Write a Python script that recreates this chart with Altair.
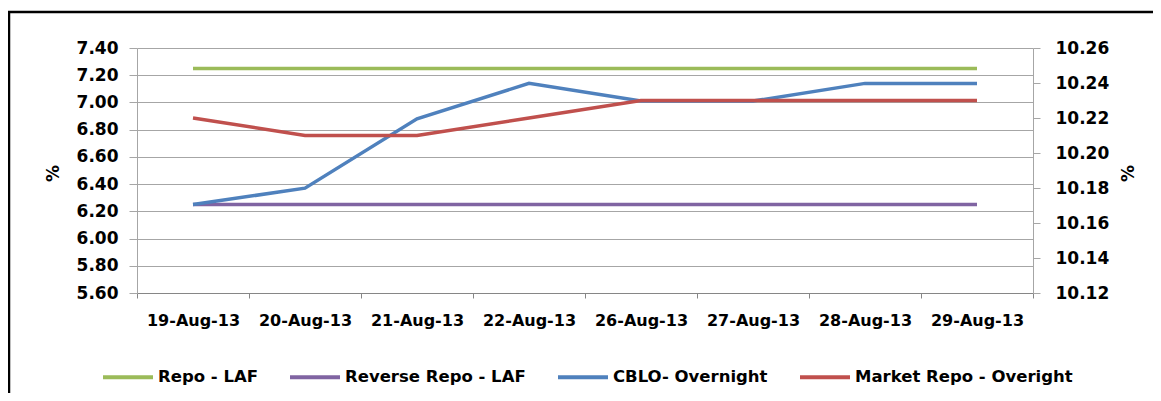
import altair as alt
import pandas as pd

dates = ["19-Aug-13", "20-Aug-13", "21-Aug-13", "22-Aug-13",
         "26-Aug-13", "27-Aug-13", "28-Aug-13", "29-Aug-13"]
series_names = ["Repo - LAF", "Reverse Repo - LAF", "CBLO- Overnight", "Market Repo - Overight"]
colors = ["#9BBB59", "#8064A2", "#4F81BD", "#C0504D"]

repo = [7.25, 7.25, 7.25, 7.25, 7.25, 7.25, 7.25, 7.25]
reverse_repo = [6.25, 6.25, 6.25, 6.25, 6.25, 6.25, 6.25, 6.25]
cblo = [6.25, 6.37, 6.88, 7.14, 7.01, 7.01, 7.14, 7.14]
market_repo = [10.22, 10.21, 10.21, 10.22, 10.23, 10.23, 10.23, 10.23]  # right axis

left_ticks = [5.6, 5.8, 6.0, 6.2, 6.4, 6.6, 6.8, 7.0, 7.2, 7.4]
right_ticks = [10.12, 10.14, 10.16, 10.18, 10.20, 10.22, 10.24, 10.26]

rows = []
for name, vals in zip(series_names[:3], [repo, reverse_repo, cblo]):
    for d, v in zip(dates, vals):
        rows.append({"date": d, "series": name, "value": v})
left_df = pd.DataFrame(rows)
right_df = pd.DataFrame({"date": dates, "series": series_names[3], "value": market_repo})

FONT = "DejaVu Sans"
W, H = 896, 245

color = alt.Color(
    "series:N",
    scale=alt.Scale(domain=series_names, range=colors),
    legend=alt.Legend(
        title=None, orient="none", direction="horizontal",
        legendX=-36, legendY=302,
        symbolType="stroke", symbolSize=2500, symbolStrokeWidth=4,
        labelFont=FONT, labelFontSize=16.5, labelFontWeight="bold",
        labelColor="#000000",
        columnPadding=24, labelOffset=3, labelLimit=400,
    ),
)

x_enc = alt.X(
    "date:O", sort=dates, bandPosition=0.5,
    scale=alt.Scale(type="band", paddingInner=0, paddingOuter=0),
    axis=alt.Axis(title=None, labelAngle=0, labelFont=FONT, labelFontSize=16,
                  labelFontWeight="bold", labelColor="#000000", labelPadding=14,
                  tickBand="extent", tickSize=5, tickColor="#868686",
                  domainColor="#868686", grid=False),
)

left = alt.Chart(left_df).mark_line(strokeWidth=3.5).encode(
    x=x_enc,
    y=alt.Y("value:Q", scale=alt.Scale(domain=[5.6, 7.4], nice=False, zero=False),
            axis=alt.Axis(title="%", values=left_ticks, format=".2f",
                          labelFont=FONT, labelFontSize=17, labelFontWeight="bold",
                          labelColor="#000000", labelPadding=11,
                          tickSize=8, tickColor="#A6A6A6", domainColor="#A6A6A6",
                          gridColor="#A6A6A6", grid=True,
                          titleFont=FONT, titleFontSize=17, titleFontWeight="bold",
                          titleAngle=270, titleX=-84, titleY=125, titleAlign="center",
                          titleBaseline="middle", titleColor="#000000")),
    color=color,
)

right = alt.Chart(right_df).mark_line(strokeWidth=3.5).encode(
    x=x_enc,
    y=alt.Y("value:Q", scale=alt.Scale(domain=[10.12, 10.26], nice=False, zero=False),
            axis=alt.Axis(title="%", orient="right", values=right_ticks, format=".2f",
                          labelFont=FONT, labelFontSize=17, labelFontWeight="bold",
                          labelColor="#000000", labelPadding=15,
                          tickSize=7, tickColor="#A6A6A6", domainColor="#A6A6A6",
                          grid=False,
                          titleFont=FONT, titleFontSize=17, titleFontWeight="bold",
                          titleAngle=270, titleX=95, titleY=125, titleAlign="center",
                          titleBaseline="middle", titleColor="#000000")),
    color=color,
)

frame = alt.Chart(pd.DataFrame({"a": [0]})).mark_rect(
    fillOpacity=0, stroke="#000000", strokeWidth=2.5
).encode(
    x=alt.value(-128), x2=alt.value(1040), y=alt.value(-36), y2=alt.value(420)
)

chart = alt.layer(left, right, frame).resolve_scale(y="independent").properties(
    width=W, height=H,
    padding={"left": 129, "top": 40, "right": 120, "bottom": 100},
    autosize=alt.AutoSizeParams(type="none"),
    background="#FFFFFF",
).configure_view(stroke=None)

chart.save("out.html", embed_options={"renderer": "svg", "actions": False})
